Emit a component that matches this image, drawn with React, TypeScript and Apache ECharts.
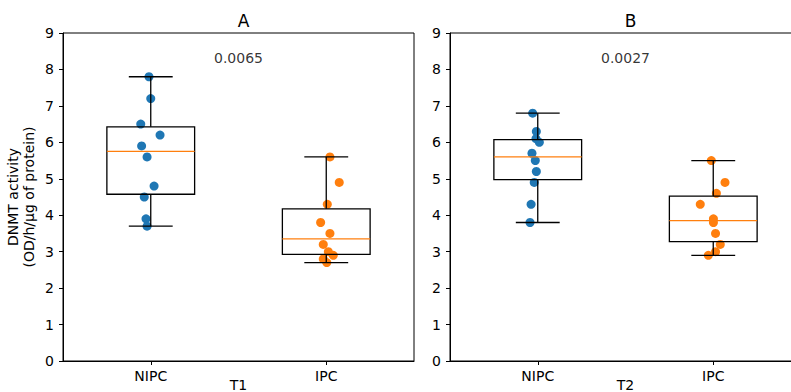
import React, { useEffect, useRef } from "react";
import * as echarts from "echarts";

const categories = ["NIPC", "IPC"];
const panelTitles = ["A", "B"];
const xNames = ["T1", "T2"];
const pValues = ["0.0065", "0.0027"];
const yTicks = [0, 1, 2, 3, 4, 5, 6, 7, 8, 9];

const aNIPC = [7.8, 7.2, 6.5, 6.2, 5.9, 5.6, 4.8, 4.5, 3.9, 3.7];
const aNIPCjit = [-0.01, 0, -0.057, 0.053, -0.052, -0.021, 0.019, -0.037, -0.027, -0.021];
const aIPC = [5.6, 4.9, 4.3, 3.8, 3.5, 3.2, 3.0, 2.9, 2.8, 2.7];
const aIPCjit = [0.021, 0.074, 0.006, -0.032, 0.021, -0.017, 0.012, 0.04, -0.017, 0.003];
const bNIPC = [6.8, 6.3, 6.1, 6.0, 5.7, 5.5, 5.2, 4.9, 4.3, 3.8];
const bNIPCjit = [-0.029, -0.008, -0.01, 0.009, -0.033, -0.014, -0.008, -0.02, -0.038, -0.044];
const bIPC = [5.5, 4.9, 4.6, 4.3, 3.9, 3.8, 3.5, 3.2, 3.0, 2.9];
const bIPCjit = [-0.011, 0.067, 0.018, -0.074, 0.001, 0.001, 0.013, 0.04, 0.013, -0.028];

const BLUE = "#1f77b4";
const ORANGE = "#ff7f0e";
const FONT = "DejaVu Sans";

function quantile(sorted: number[], p: number) {
  const pos = p * (sorted.length - 1);
  const lo = Math.floor(pos);
  const hi = Math.ceil(pos);
  return sorted[lo] + (sorted[hi] - sorted[lo]) * (pos - lo);
}

function boxStats(pos: number, vals: number[]) {
  const s = [...vals].sort((a, b) => a - b);
  const q1 = quantile(s, 0.25);
  const md = quantile(s, 0.5);
  const q3 = quantile(s, 0.75);
  const iqr = q3 - q1;
  const lo = Math.min(...s.filter((v) => v >= q1 - 1.5 * iqr));
  const hi = Math.max(...s.filter((v) => v <= q3 + 1.5 * iqr));
  return [pos, lo, q1, md, q3, hi];
}

const panels = [
  { groups: [aNIPC, aIPC], jits: [aNIPCjit, aIPCjit] },
  { groups: [bNIPC, bIPC], jits: [bNIPCjit, bIPCjit] },
];

const grids = [
  { left: 63, top: 33, width: 351, height: 328 },
  { left: 450, top: 33, width: 351, height: 328 },
];

export default function App() {
  const ref = useRef<HTMLDivElement>(null);
  useEffect(() => {
    if (!ref.current) return;
    const chart = echarts.init(ref.current, undefined, { renderer: "svg" });
    const textStyle = { fontFamily: FONT, fontSize: 14, color: "#000" };
    const xAxis: any[] = [];
    const yAxis: any[] = [];
    const series: any[] = [];
    const title: any[] = [];
    const graphic: any[] = [];
    panels.forEach((p, i) => {
      const g = grids[i];
      title.push({
        text: panelTitles[i],
        left: g.left + g.width / 2,
        top: 7,
        textAlign: "center",
        textStyle: { fontFamily: FONT, fontSize: 17, fontWeight: "normal", color: "#000" },
      });
      graphic.push({
        type: "text",
        x: g.left + g.width / 2,
        y: g.top + g.height + 24,
        style: {
          text: xNames[i],
          align: "center",
          verticalAlign: "middle",
          font: `14px "${FONT}"`,
          fill: "#000",
        },
      });
      xAxis.push({
        type: "category",
        gridIndex: i,
        data: categories,
        boundaryGap: true,
        axisLine: { show: true, lineStyle: { color: "#000", width: 1 } },
        axisTick: { show: true, alignWithLabel: true, length: 4, lineStyle: { color: "#000" } },
        axisLabel: { ...textStyle, margin: 8 },
        splitLine: { show: false },
      });
      xAxis.push({
        type: "value",
        gridIndex: i,
        min: 0.5,
        max: 2.5,
        show: false,
      });
      yAxis.push({
        type: "value",
        gridIndex: i,
        min: yTicks[0],
        max: yTicks[yTicks.length - 1],
        interval: 1,
        axisLine: { show: true, lineStyle: { color: "#000", width: 1 } },
        axisTick: { show: true, length: 4, lineStyle: { color: "#000" } },
        axisLabel: { ...textStyle, margin: 9 },
        splitLine: { show: false },
        name: i === 0 ? "DNMT activity\n(OD/h/µg of protein)" : "",
        nameLocation: "middle",
        nameRotate: 90,
        nameGap: 26,
        nameTextStyle: { ...textStyle, lineHeight: 16 },
      });
      p.groups.forEach((vals, k) => {
        series.push({
          type: "scatter",
          xAxisIndex: i * 2 + 1,
          yAxisIndex: i,
          symbolSize: 9,
          z: 2,
          itemStyle: { color: k === 0 ? BLUE : ORANGE, opacity: 1 },
          data: vals.map((v, j) => [k + 1 + p.jits[k][j], v]),
        });
      });
      series.push({
        type: "custom",
        xAxisIndex: i * 2 + 1,
        yAxisIndex: i,
        z: 3,
        encode: { x: 0, y: [1, 2, 3, 4, 5] },
        data: p.groups.map((vals, k) => boxStats(k + 1, vals)),
        renderItem: (params: any, api: any) => {
          const x = api.value(0);
          const w = api.size([0.5, 0])[0];
          const cw = w / 2;
          const pmn = api.coord([x, api.value(1)]);
          const pq1 = api.coord([x, api.value(2)]);
          const pmd = api.coord([x, api.value(3)]);
          const pq3 = api.coord([x, api.value(4)]);
          const pmx = api.coord([x, api.value(5)]);
          const cx = pq1[0];
          const ls = { stroke: "#000", lineWidth: 1.3, fill: "none" };
          return {
            type: "group",
            children: [
              { type: "rect", shape: { x: cx - w / 2, y: pq3[1], width: w, height: pq1[1] - pq3[1] }, style: ls },
              { type: "line", shape: { x1: cx, y1: pq3[1], x2: cx, y2: pmx[1] }, style: ls },
              { type: "line", shape: { x1: cx, y1: pq1[1], x2: cx, y2: pmn[1] }, style: ls },
              { type: "line", shape: { x1: cx - cw / 2, y1: pmx[1], x2: cx + cw / 2, y2: pmx[1] }, style: ls },
              { type: "line", shape: { x1: cx - cw / 2, y1: pmn[1], x2: cx + cw / 2, y2: pmn[1] }, style: ls },
              { type: "line", shape: { x1: cx - w / 2, y1: pmd[1], x2: cx + w / 2, y2: pmd[1] }, style: { stroke: ORANGE, lineWidth: 1.3 } },
            ],
          };
        },
      });
      series.push({
        type: "scatter",
        xAxisIndex: i * 2 + 1,
        yAxisIndex: i,
        symbolSize: 0,
        z: 4,
        silent: true,
        data: [[1.5, 8.32]],
        label: {
          show: true,
          position: "inside",
          formatter: pValues[i],
          ...textStyle,
        },
      });
    });
    chart.setOption({
      animation: false,
      backgroundColor: "#fff",
      title,
      graphic,
      grid: grids.map((g) => ({
        ...g,
        show: true,
        borderColor: "#000",
        borderWidth: 1,
        backgroundColor: "transparent",
        containLabel: false,
        outerBoundsMode: "none",
      })),
      xAxis,
      yAxis,
      series,
    });
    return () => chart.dispose();
  }, []);
  return (
    <div style={{ position: "fixed", left: 0, top: 0, width: 791, height: 392, overflow: "hidden", background: "#fff" }}>
      <div ref={ref} style={{ width: 812, height: 392 }} />
    </div>
  );
}
